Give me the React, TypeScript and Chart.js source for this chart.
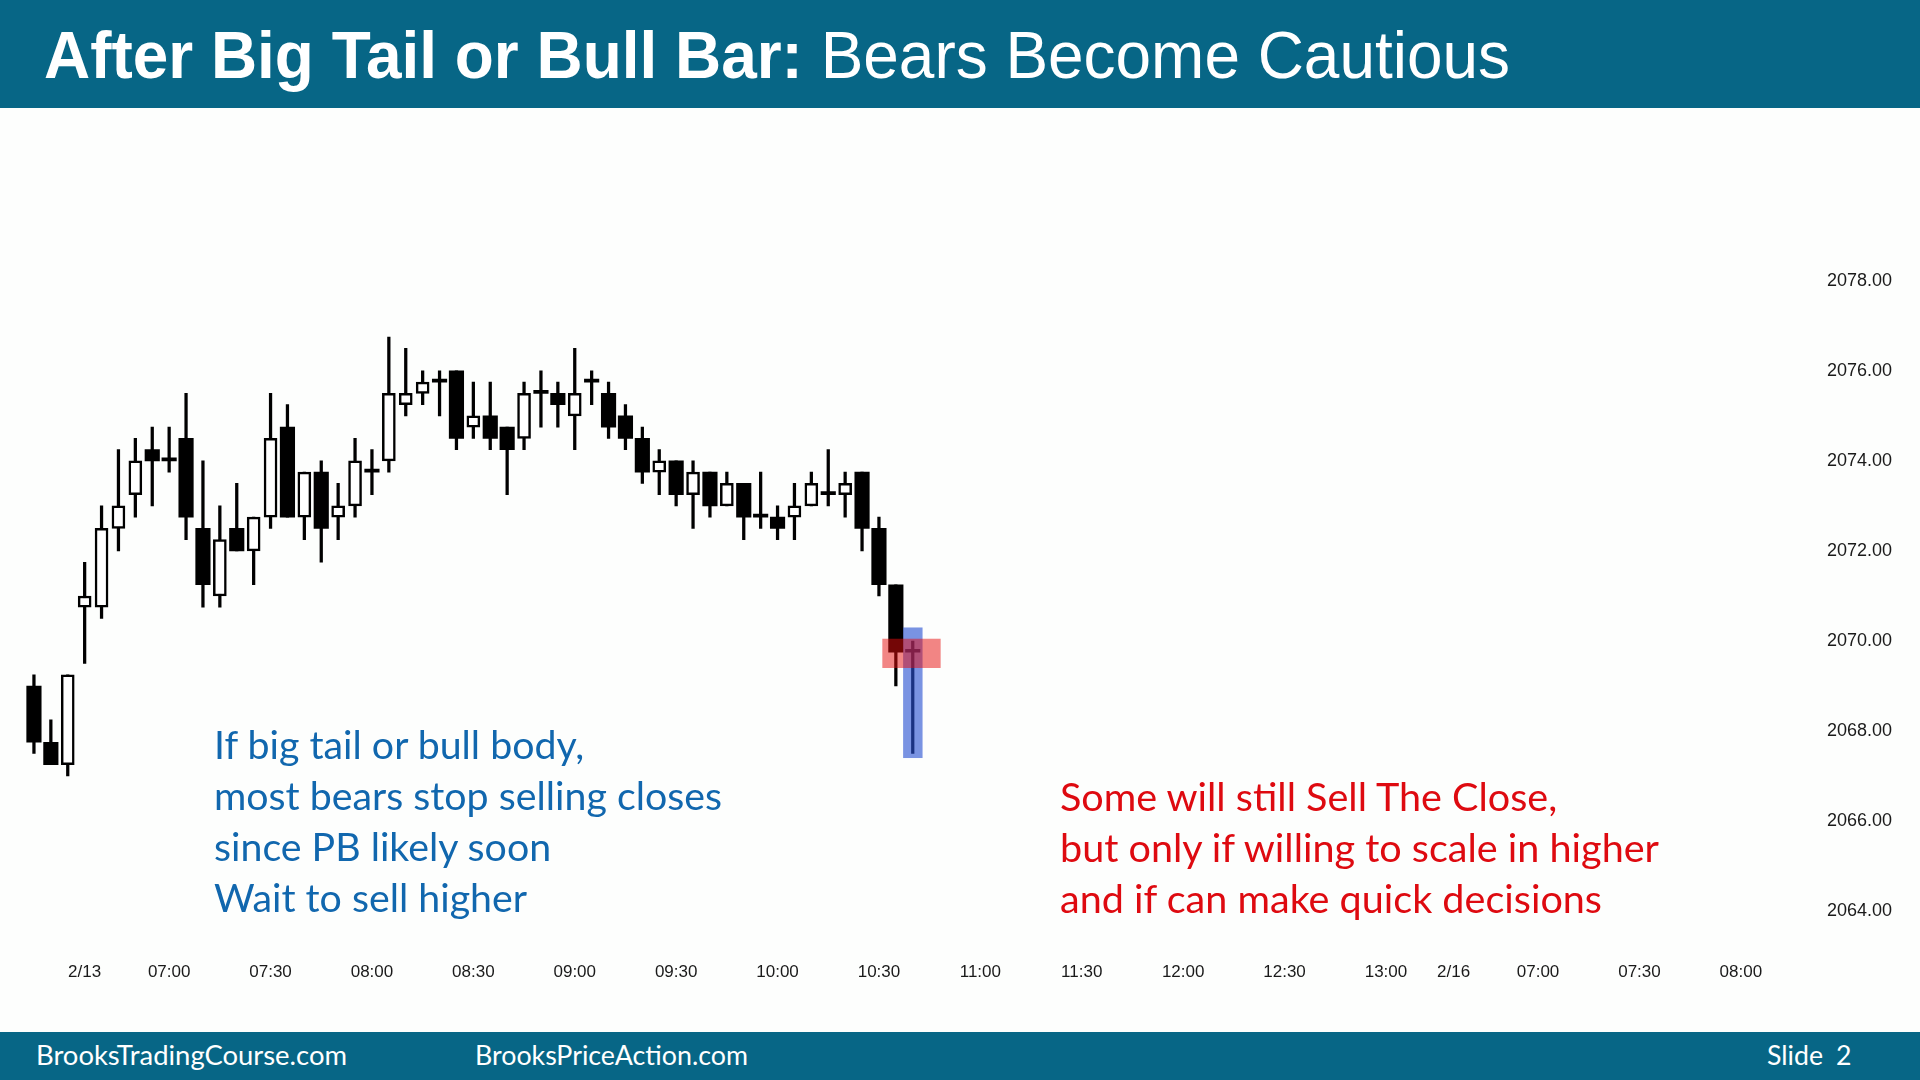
import React, { useEffect, useLayoutEffect, useRef } from "react";
import { Chart, registerables } from "chart.js";

Chart.register(...registerables);

// ---- categories: 5-minute bars per session ----
const SESSIONS = [
  { date: "2/12", start: "13:05", end: "13:15" },
  { date: "2/13", start: "06:35", end: "13:15" },
  { date: "2/16", start: "06:35", end: "08:15" },
];

function buildCategories(): string[] {
  const out: string[] = [];
  const toMin = (s: string) => {
    const [h, m] = s.split(":").map(Number);
    return h * 60 + m;
  };
  const fmt = (t: number) =>
    String(Math.floor(t / 60)).padStart(2, "0") + ":" + String(t % 60).padStart(2, "0");
  for (const s of SESSIONS) {
    for (let t = toMin(s.start); t <= toMin(s.end); t += 5) out.push(s.date + " " + fmt(t));
  }
  return out;
}
const CATEGORIES = buildCategories();

// ---- OHLC series ----
const OPEN = [
  2069.0, 2067.75, 2067.25, 2070.75, 2070.75, 2072.5, 2073.25, 2074.25, 2074.0, 2074.5,
  2072.5, 2071.0, 2072.5, 2072.0, 2072.75, 2074.75, 2072.75, 2073.75, 2072.75, 2073.0,
  2073.75, 2074.0, 2075.25, 2075.5, 2075.75, 2076.0, 2074.75, 2075.0, 2074.75, 2074.5,
  2075.5, 2075.5, 2075.0, 2075.75, 2075.5, 2075.0, 2074.5, 2073.75, 2074.0, 2073.25,
  2073.75, 2073.0, 2073.5, 2072.75, 2072.75, 2072.75, 2073.0, 2073.25, 2073.25, 2073.75,
  2072.5, 2071.25, 2069.75,
];
const HIGH = [
  2069.25, 2068.25, 2069.25, 2071.75, 2073.0, 2074.25, 2074.5, 2074.75, 2074.75, 2075.5,
  2074.0, 2073.0, 2073.5, 2072.75, 2075.5, 2075.25, 2073.75, 2074.0, 2073.5, 2074.5,
  2074.25, 2076.75, 2076.5, 2076.0, 2076.0, 2076.0, 2075.75, 2075.75, 2074.75, 2075.75,
  2076.0, 2075.75, 2076.5, 2076.0, 2075.75, 2075.25, 2074.75, 2074.25, 2074.0, 2074.0,
  2073.75, 2073.75, 2073.5, 2073.75, 2073.0, 2073.5, 2073.75, 2074.25, 2073.75, 2073.75,
  2072.75, 2071.25, 2070.0,
];
const LOW = [
  2067.5, 2067.25, 2067.0, 2069.5, 2070.5, 2072.0, 2072.75, 2073.0, 2073.75, 2072.25,
  2070.75, 2070.75, 2072.0, 2071.25, 2072.5, 2072.75, 2072.25, 2071.75, 2072.25, 2072.75,
  2073.25, 2073.75, 2075.0, 2075.25, 2075.0, 2074.25, 2074.5, 2074.25, 2073.25, 2074.25,
  2074.75, 2074.75, 2074.25, 2075.25, 2074.5, 2074.25, 2073.5, 2073.25, 2073.0, 2072.5,
  2072.75, 2073.0, 2072.25, 2072.5, 2072.25, 2072.25, 2073.0, 2073.0, 2072.75, 2072.0,
  2071.0, 2069.0, 2067.5,
];
const CLOSE = [
  2067.75, 2067.25, 2069.25, 2071.0, 2072.5, 2073.0, 2074.0, 2074.0, 2074.0, 2072.75,
  2071.25, 2072.25, 2072.0, 2072.75, 2074.5, 2072.75, 2073.75, 2072.5, 2073.0, 2074.0,
  2073.75, 2075.5, 2075.5, 2075.75, 2075.75, 2074.5, 2075.0, 2074.5, 2074.25, 2075.5,
  2075.5, 2075.25, 2075.5, 2075.75, 2074.75, 2074.5, 2073.75, 2074.0, 2073.25, 2073.75,
  2073.0, 2073.5, 2072.75, 2072.75, 2072.5, 2073.0, 2073.5, 2073.25, 2073.5, 2072.5,
  2071.25, 2069.75, 2069.75,
];

// ---- axes ----
const Y_TICKS = [2064, 2066, 2068, 2070, 2072, 2074, 2076, 2078];
const Y_MIN = 2063.2;
const Y_MAX = 2081;
const X_TICK_LABELS: [string, string][] = [
  ["2/13 06:35", "2/13"],
  ["2/13 07:00", "07:00"],
  ["2/13 07:30", "07:30"],
  ["2/13 08:00", "08:00"],
  ["2/13 08:30", "08:30"],
  ["2/13 09:00", "09:00"],
  ["2/13 09:30", "09:30"],
  ["2/13 10:00", "10:00"],
  ["2/13 10:30", "10:30"],
  ["2/13 11:00", "11:00"],
  ["2/13 11:30", "11:30"],
  ["2/13 12:00", "12:00"],
  ["2/13 12:30", "12:30"],
  ["2/13 13:00", "13:00"],
  ["2/16 06:35", "2/16"],
  ["2/16 07:00", "07:00"],
  ["2/16 07:30", "07:30"],
  ["2/16 08:00", "08:00"],
];
const TICK_MAP: Record<string, string> = Object.fromEntries(X_TICK_LABELS);

// ---- highlights (in data units) ----
const HIGHLIGHT_SPAN = [51.43, 52.58]; // category positions
const HIGHLIGHT_PRICE = [2067.4, 2070.3];
const ZONE_SPAN = [50.2, 53.65];
const ZONE_PRICE = [2069.4, 2070.05];

// ---- texts ----
const TITLE_BOLD = "After Big Tail or Bull Bar:";
const TITLE_REST = " Bears Become Cautious";
const BLUE_LINES = [
  "If big tail or bull body,",
  "most bears stop selling closes",
  "since PB likely soon",
  "Wait to sell higher",
];
const RED_LINES = [
  "Some will still Sell The Close,",
  "but only if willing to scale in higher",
  "and if can make quick decisions",
];

const BAR_COLOR = "#000000";
const TEAL = "#076686";

const overlayPlugin = {
  id: "highlightOverlays",
  afterDatasetsDraw(chart: any) {
    const { ctx, scales } = chart;
    const x = scales.x;
    const y = scales.y;
    ctx.save();
    // blue box around the signal bar
    const bx0 = x.getPixelForValue(HIGHLIGHT_SPAN[0]);
    const bx1 = x.getPixelForValue(HIGHLIGHT_SPAN[1]);
    const by0 = y.getPixelForValue(HIGHLIGHT_PRICE[1]);
    const by1 = y.getPixelForValue(HIGHLIGHT_PRICE[0]);
    ctx.fillStyle = "rgba(40,80,210,0.62)";
    ctx.fillRect(bx0, by0, bx1 - bx0, by1 - by0);
    // red zone at the close
    const rx0 = x.getPixelForValue(ZONE_SPAN[0]);
    const rx1 = x.getPixelForValue(ZONE_SPAN[1]);
    const ry0 = y.getPixelForValue(ZONE_PRICE[1]);
    const ry1 = y.getPixelForValue(ZONE_PRICE[0]);
    ctx.fillStyle = "rgba(232,12,12,0.5)";
    ctx.fillRect(rx0, ry0, rx1 - rx0, ry1 - ry0);
    ctx.restore();
  },
};

function FitText(props: { width: number; style: React.CSSProperties; children: React.ReactNode }) {
  const ref = useRef<HTMLDivElement>(null);
  useLayoutEffect(() => {
    const el = ref.current;
    if (!el) return;
    el.style.transform = "none";
    const w = el.getBoundingClientRect().width;
    if (w > 0) el.style.transform = `scaleX(${props.width / w})`;
  }, [props.width]);
  return (
    <div
      ref={ref}
      style={{
        position: "absolute",
        whiteSpace: "pre",
        transformOrigin: "left top",
        ...props.style,
      }}
    >
      {props.children}
    </div>
  );
}

function CandleChart() {
  const canvasRef = useRef<HTMLCanvasElement>(null);
  useEffect(() => {
    const canvas = canvasRef.current;
    if (!canvas) return;
    const bull = OPEN.map((o, i) => (CLOSE[i] > o ? [o, CLOSE[i]] : null));
    const bear = OPEN.map((o, i) => (CLOSE[i] <= o ? [CLOSE[i], o] : null));
    const wicks = LOW.map((l, i) => [l, HIGH[i]]);
    const chart = new Chart(canvas, {
      type: "bar",
      data: {
        labels: CATEGORIES,
        datasets: [
          {
            label: "bull",
            data: bull as any,
            backgroundColor: "#ffffff",
            borderColor: BAR_COLOR,
            borderWidth: 2.5,
            borderSkipped: false,
            barThickness: 13,
            grouped: false,
          } as any,
          {
            label: "bear",
            data: bear as any,
            backgroundColor: BAR_COLOR,
            borderWidth: 0,
            barThickness: 14.5,
            minBarLength: 3,
            grouped: false,
          } as any,
          {
            label: "range",
            data: wicks as any,
            backgroundColor: BAR_COLOR,
            borderWidth: 0,
            barThickness: 2.6,
            grouped: false,
          } as any,
        ],
      },
      options: {
        animation: false,
        responsive: false,
        maintainAspectRatio: false,
        layout: { padding: { top: 35.8, left: 25.5, right: 0, bottom: 0 } },
        plugins: { legend: { display: false }, tooltip: { enabled: false } },
        scales: {
          x: {
            type: "category",
            offset: true,
            grid: { display: false, drawTicks: false },
            border: { display: false },
            ticks: {
              autoSkip: false,
              maxRotation: 0,
              minRotation: 0,
              padding: 15,
              color: "#1a1a1a",
              font: { family: "'Liberation Sans', Arial, sans-serif", size: 17 },
              callback: (_v: any, index: number) => TICK_MAP[CATEGORIES[index]] ?? "",
            },
            afterFit: (scale: any) => {
              scale.height = 84.9;
            },
          },
          y: {
            position: "right",
            min: Y_MIN,
            max: Y_MAX,
            grid: { display: false, drawTicks: false },
            border: { display: false },
            afterBuildTicks: (scale: any) => {
              scale.ticks = Y_TICKS.map((v) => ({ value: v }));
            },
            ticks: {
              padding: 27,
              color: "#1a1a1a",
              font: { family: "'Liberation Sans', Arial, sans-serif", size: 18 },
              callback: (v: any) => Number(v).toFixed(2),
            },
            afterFit: (scale: any) => {
              scale.width = 120;
            },
          },
        },
      } as any,
      plugins: [overlayPlugin],
    });
    return () => chart.destroy();
  }, []);
  return (
    <canvas
      ref={canvasRef}
      width={1920}
      height={924}
      style={{ position: "absolute", left: 0, top: 108, width: 1920, height: 924 }}
    />
  );
}

export default function App() {
  useEffect(() => {
    document.body.style.margin = "0";
  }, []);
  return (
    <div
      style={{
        position: "absolute",
        left: 0,
        top: 0,
        width: 1920,
        height: 1080,
        overflow: "hidden",
        background: "#fdfefd",
      }}
    >
      <div style={{ position: "absolute", left: 0, top: 0, width: 1920, height: 108, background: TEAL }} />
      <FitText
        width={1466}
        style={{
          left: 44,
          top: 20.5,
          color: "#ffffff",
          fontFamily: "'Liberation Sans', Arial, sans-serif",
          fontSize: 67,
          lineHeight: "67px",
        }}
      >
        <span style={{ fontWeight: 700 }}>{TITLE_BOLD}</span>
        <span style={{ fontWeight: 400 }}>{TITLE_REST}</span>
      </FitText>

      <CandleChart />

      <FitText
        width={508}
        style={{
          left: 214,
          top: 719,
          color: "#1167ae",
          fontFamily: "Lato, 'Open Sans', sans-serif",
          fontSize: 38,
          lineHeight: "51px",
        }}
      >
        {BLUE_LINES.join("\n")}
      </FitText>
      <FitText
        width={599}
        style={{
          left: 1060,
          top: 770.5,
          color: "#de0a10",
          fontFamily: "Lato, 'Open Sans', sans-serif",
          fontSize: 38,
          lineHeight: "51px",
        }}
      >
        {RED_LINES.join("\n")}
      </FitText>

      <div style={{ position: "absolute", left: 0, top: 1032, width: 1920, height: 48, background: TEAL }} />
      <FitText
        width={311}
        style={{ left: 35.5, top: 1032, color: "#ffffff", fontFamily: "Lato, sans-serif", fontSize: 26, lineHeight: "46px" }}
      >
        BrooksTradingCourse.com
      </FitText>
      <FitText
        width={273}
        style={{ left: 475, top: 1032, color: "#ffffff", fontFamily: "Lato, sans-serif", fontSize: 26, lineHeight: "46px" }}
      >
        BrooksPriceAction.com
      </FitText>
      <FitText
        width={84.5}
        style={{ left: 1767, top: 1032, color: "#ffffff", fontFamily: "Lato, sans-serif", fontSize: 26, lineHeight: "46px" }}
      >
        <span>Slide </span>
        <span style={{ marginLeft: 6 }}>2</span>
      </FitText>
    </div>
  );
}
